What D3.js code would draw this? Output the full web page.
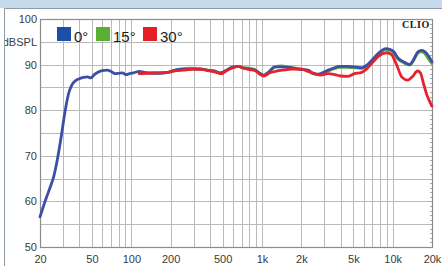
<!DOCTYPE html>
<html>
<head>
<meta charset="utf-8">
<script src="https://cdn.jsdelivr.net/npm/d3@7.9.0/dist/d3.min.js"></script>
<style>
  html, body { margin: 0; padding: 0; background: #fff; }
  svg { display: block; font-family: "Liberation Sans", Arial, sans-serif; }
</style>
</head>
<body>
<svg id="chart" width="442" height="266"></svg>
<script>
// series data (Hz, dB SPL)
const blueFreq = [20, 21, 22.5, 24, 25.5, 27, 29, 31, 33, 35, 37.5, 40, 43, 46, 49, 52, 56, 60, 65, 70, 75, 80, 85, 91, 97, 104, 115, 125, 140, 165, 190, 215, 240, 280, 335, 380, 430, 480, 530, 600, 660, 720, 800, 880, 960, 1030, 1120, 1250, 1400, 1600, 1900, 2250, 2450, 2700, 3100, 3500, 3950, 4500, 5100, 5800, 6300, 7100, 8000, 8800, 9600, 10200, 11000, 12300, 13500, 14400, 15600, 16600, 17500, 18700, 20000];
const blueDb = [56.6, 58.5, 61, 63.2, 65.5, 68.8, 74, 79.5, 83.5, 85.5, 86.5, 86.9, 87.2, 87.3, 87.1, 87.8, 88.4, 88.7, 88.8, 88.5, 88.0, 88.1, 88.2, 87.8, 88.0, 88.2, 88.5, 88.3, 88.1, 88.1, 88.3, 88.8, 89.0, 89.0, 89.0, 88.8, 88.6, 88.2, 88.7, 89.5, 89.6, 89.3, 89.0, 88.8, 88.1, 87.7, 88.3, 89.5, 89.5, 89.4, 89.0, 88.8, 88.1, 87.9, 88.6, 89.2, 89.6, 89.6, 89.5, 89.3, 89.8, 91.3, 92.8, 93.5, 93.3, 92.8, 91.4, 90.5, 90.0, 91.0, 92.8, 93.1, 92.9, 92.0, 90.6];

const greenFreq = [115, 130, 150, 170, 190, 215, 240, 280, 335, 380, 430, 480, 530, 600, 660, 720, 800, 880, 960, 1030, 1120, 1250, 1400, 1600, 1900, 2250, 2450, 2700, 3100, 3500, 3950, 4500, 5100, 5800, 6300, 7100, 8000, 8800, 9600, 10200, 11000, 12300, 13500, 14400, 15600, 16600, 17500, 18700, 20000];
const greenDb = [88.2, 88.2, 88.2, 88.2, 88.3, 88.7, 89.0, 89.2, 89.1, 88.8, 88.5, 88.1, 88.7, 89.4, 89.6, 89.3, 89.2, 88.9, 88.1, 87.6, 88.3, 89.4, 89.7, 89.5, 89.1, 88.7, 88.0, 87.8, 88.4, 89.0, 89.4, 89.4, 89.3, 89.2, 89.6, 91.1, 92.6, 93.3, 93.1, 92.5, 91.2, 90.3, 89.9, 90.8, 92.5, 92.8, 92.5, 91.3, 90.2];

const redFreq = [115, 130, 150, 165, 190, 215, 250, 300, 350, 400, 450, 490, 530, 600, 660, 720, 800, 880, 960, 1030, 1150, 1300, 1450, 1700, 2000, 2250, 2500, 2800, 3200, 3600, 4000, 4500, 5100, 5800, 6300, 7100, 8000, 9000, 9800, 10600, 11800, 13000, 14200, 15500, 16300, 17200, 18300, 19200, 20000];
const redDb = [88.0, 88.1, 88.2, 88.2, 88.3, 88.6, 88.8, 89.0, 88.9, 88.6, 88.3, 88.0, 88.6, 89.3, 89.6, 89.2, 88.9, 88.7, 87.9, 87.5, 88.2, 88.6, 88.8, 89.0, 89.0, 88.5, 88.1, 87.7, 88.0, 87.8, 87.5, 87.4, 88.0, 88.3, 89.0, 90.6, 92.1, 92.6, 92.2, 90.3, 87.2, 86.6, 87.4, 88.6, 88.2, 85.9, 83.3, 81.9, 80.9];

const legendLabels = ['0°', '15°', '30°'];
const xTickValues = [20, 50, 100, 200, 500, 1000, 2000, 5000, 10000, 20000];
const xTickLabels = ['20', '50', '100', '200', '500', '1k', '2k', '5k', '10k', '20k'];
const yTickValues = [50, 60, 70, 80, 90, 100];

const svg = d3.select('#chart');

// header band + panel frame
svg.append('rect').attr('x', 0).attr('y', 0).attr('width', 442).attr('height', 8).attr('fill', '#c6d9ea');
svg.append('line').attr('x1', 4.5).attr('x2', 442).attr('y1', 8.5).attr('y2', 8.5).attr('stroke', '#8e9aa6');

const x = d3.scaleLog().domain([20, 20000]).range([40, 432]);
const y = d3.scaleLinear().domain([50, 100]).range([247, 19]);

// grid
let vGrid = [];
[10, 100, 1000].forEach(dec => {
  for (let k = 1; k <= 9; k++) {
    let f = dec * k;
    if (f > 20 && f < 20000) vGrid.push(f);
  }
});
vGrid.push(10000);
svg.append('g')
  .selectAll('line')
  .data(vGrid)
  .join('line')
  .attr('x1', d => Math.round(x(d)) + 0.5)
  .attr('x2', d => Math.round(x(d)) + 0.5)
  .attr('y1', y(100))
  .attr('y2', y(50))
  .attr('stroke', '#b9b9b9')
  .attr('stroke-width', 1);

svg.append('g')
  .selectAll('line')
  .data(d3.range(55, 100, 5))
  .join('line')
  .attr('x1', x(20))
  .attr('x2', x(20000))
  .attr('y1', d => Math.round(y(d)) + 0.5)
  .attr('y2', d => Math.round(y(d)) + 0.5)
  .attr('stroke', '#b9b9b9')
  .attr('stroke-width', 1);

// small ticks on right edge
svg.append('g')
  .selectAll('line')
  .data(d3.range(51, 100, 1))
  .join('line')
  .attr('x1', x(20000) - 2)
  .attr('x2', x(20000))
  .attr('y1', d => Math.round(y(d)) + 0.5)
  .attr('y2', d => Math.round(y(d)) + 0.5)
  .attr('stroke', '#aaa');

// plot border
svg.append('rect')
  .attr('x', x(20) + 0.5).attr('y', y(100) + 0.5)
  .attr('width', x(20000) - x(20)).attr('height', y(50) - y(100))
  .attr('fill', 'none').attr('stroke', '#8c8c8c').attr('stroke-width', 1.2);

// axes labels
const xAxis = d3.axisBottom(x).tickValues(xTickValues).tickFormat((d, i) => xTickLabels[i]).tickSize(0).tickPadding(8);
const gx = svg.append('g').attr('transform', `translate(0,${y(50)})`).call(xAxis);
gx.select('.domain').remove();
gx.selectAll('text').attr('font-size', 11).attr('fill', '#3a3a3a').attr('font-family', '"Liberation Sans", Arial, sans-serif');

const yAxis = d3.axisLeft(y).tickValues(yTickValues).tickSize(0).tickPadding(3);
const gy = svg.append('g').attr('transform', `translate(${x(20)},0)`).call(yAxis);
gy.select('.domain').remove();
gy.selectAll('text').attr('font-size', 11).attr('fill', '#3a3a3a').attr('font-family', '"Liberation Sans", Arial, sans-serif');

svg.append('text').attr('x', 37).attr('y', y(95) + 4).attr('text-anchor', 'end')
  .attr('font-size', 11).attr('fill', '#3a3a3a').text('dBSPL');

// left frame line (drawn over label like the original)
svg.append('rect').attr('x', 0).attr('y', 8).attr('width', 4).attr('height', 258).attr('fill', '#fff');
svg.append('line').attr('x1', 4.5).attr('x2', 4.5).attr('y1', 8.5).attr('y2', 266).attr('stroke', '#8e9aa6');

svg.append('text').attr('x', 430).attr('y', 28).attr('text-anchor', 'end')
  .attr('font-family', '"Liberation Serif", "Times New Roman", serif')
  .attr('font-weight', 'bold').attr('font-size', 10).attr('letter-spacing', 0.6)
  .attr('fill', '#222').text('CLIO');

// curves
const line = d3.line().x(d => x(d[0])).y(d => y(d[1])).curve(d3.curveMonotoneX);
const series = [
  { f: greenFreq, v: greenDb, color: '#63ad3c' },
  { f: blueFreq, v: blueDb, color: '#3c4ea6' },
  { f: redFreq, v: redDb, color: '#e4232b' }
];
series.forEach(s => {
  svg.append('path')
    .attr('d', line(d3.zip(s.f, s.v)))
    .attr('fill', 'none')
    .attr('stroke', s.color)
    .attr('stroke-width', 2.8)
    .attr('stroke-linejoin', 'round')
    .attr('stroke-linecap', 'round');
});

// legend
const legendColors = ['#1d4fa6', '#5aae32', '#e51d25'];
const legendX = [57, 96, 143];
const legendTextX = [74, 113, 160];
legendLabels.forEach((lab, i) => {
  svg.append('rect').attr('x', legendX[i]).attr('y', 27).attr('width', 14).attr('height', 14)
    .attr('fill', legendColors[i]);
  svg.append('text').attr('x', legendTextX[i]).attr('y', 41.5)
    .attr('font-size', 15).attr('fill', '#1a1a1a').text(lab);
});
</script>
</body>
</html>
